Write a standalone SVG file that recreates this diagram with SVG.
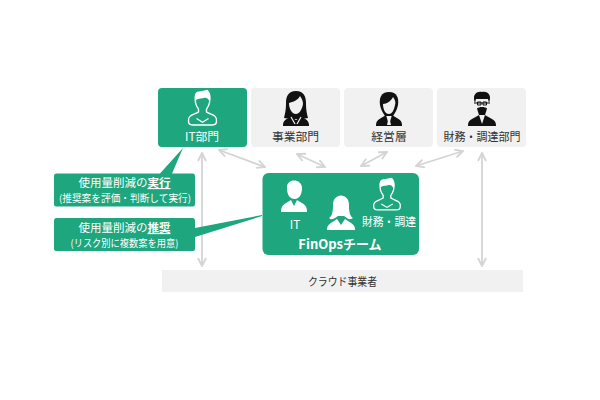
<svg xmlns="http://www.w3.org/2000/svg" width="600" height="400" viewBox="0 0 600 400">
<defs>
<marker id="a" viewBox="0 0 10 10" refX="9" refY="5" markerWidth="10" markerHeight="10" markerUnits="userSpaceOnUse" orient="auto-start-reverse"><path d="M1 1L9 5L1 9" fill="none" stroke="#d4d4d4" stroke-width="1.800"/></marker>
<g id="mo"><path d="M-7-23C-8-30 8-30 7-23C8-18 6-13 4-10V-7C8-4 15-4 14 3C14 6 12 7 10 7H-10C-12 7-14 6-14 3C-15-4-8-4-4-7V-10C-6-13-8-18-7-23Z" fill="none" stroke="#fff" stroke-width="1.400"/><path d="M-7-19C-9-25-7-30-3-29L5-31C8-28 9-23 7-18C6-21 4-23 1-22C-2-21-5-22-7-19Z" fill="#fff"/><path d="M-6 0L0 4L6 0" fill="none" stroke="#fff" stroke-width="1.200"/></g>
</defs>
<style>
text{font-family:"Noto Sans CJK JP","Liberation Sans",sans-serif;text-anchor:middle}
.g{fill:#1ea67e}.l{fill:#f1f1f1}.w{fill:#fff}.k{fill:#333}
.c{fill:none;stroke:#d4d4d4;stroke-width:1.800;marker-start:url(#a);marker-end:url(#a)}
.d{fill:#111}.f{fill:#f1f1f1}
</style>
<rect width="600" height="400" fill="#fff"/>
<g id="connectors">
<path class="c" d="M202 153V266"/>
<path class="c" d="M219 150L265 167"/>
<path class="c" d="M297 154L325 167"/>
<path class="c" d="M387 152L361 166"/>
<path class="c" d="M463 151L416 166"/>
<path class="c" d="M482 153V266"/>
</g>
<g id="it-dept"><rect class="g" x="158" y="88" width="89" height="59" rx="4"/>
<use href="#mo" transform="translate(202.500 118.500) scale(1 .93)"/>
<text class="w" x="202" y="141" font-size="11.800">IT部門</text></g>
<g id="business"><rect class="l" x="251" y="88" width="89" height="59" rx="4"/>
<path class="d" d="M296 91C288 91 286 97 286 103C286 110 285 114 284 118L290 119H302L308 118C307 114 306 110 306 103C306 97 304 91 296 91Z"/>
<path class="f" d="M289 103C293 102 298 100 300 96C302 99 303 101 303 104C302 110 299 114 296 114C292 114 289 109 289 103Z"/>
<path class="d" d="M283 125C283 120 288 118 291 117L296 120L301 117C304 118 309 120 309 125V126H283Z"/>
<path d="M291 117L295 124M301 117L297 124" fill="none" stroke="#f1f1f1" stroke-width="1.200"/>
<text class="k" x="295.500" y="141" font-size="11.800">事業部門</text></g>
<g id="executives"><rect class="l" x="344" y="88" width="89" height="59" rx="4"/>
<path class="d" d="M389 92C381 92 379 98 380 105C381 110 383 113 385 116H393C395 113 397 110 398 105C399 98 397 92 389 92Z"/>
<path class="f" d="M383 104C387 104 391 101 393 97C395 100 396 102 395 105C394 110 392 114 389 114C385 114 383 109 383 104Z"/>
<path class="d" d="M376 125C376 119 382 118 386 115L389 125L392 115C396 118 402 119 402 125V126H376Z"/>
<path d="M389 116L387 125H391Z" class="f"/>
<text class="k" x="389" y="141" font-size="11.800">経営層</text></g>
<g id="finance"><rect class="l" x="437" y="88" width="89" height="59" rx="4"/>
<path class="d" d="M475 103C472 95 476 91 482 92C488 91 492 95 489 103L488 99H476Z"/>
<path class="f" d="M476 101H488C488 109 486 115 482 115C478 115 476 109 476 101Z"/>
<path d="M474 103H490" stroke="#111" stroke-width="1"/>
<path d="M477.500 102h3.500v3h-3.500zM483 102h3.500v3h-3.500z" fill="none" stroke="#111" stroke-width="1"/>
<path class="d" d="M477 108.500C479 106.500 485 106.500 487 108.500L485 115H479Z"/>
<path class="d" d="M468 125C468 119 475 118 479 115L482 124L485 115C489 118 496 119 496 125V126H468Z"/>
<text class="k" x="482" y="141" font-size="11.800" textLength="77" lengthAdjust="spacingAndGlyphs">財務・調達部門</text></g>
<g id="finops"><rect class="g" x="262.500" y="173" width="156.500" height="82" rx="6"/>
<g class="w"><path d="M287 188C286 178 302 178 302 188C302 195 299 199 294.500 199C290 199 287 195 287 188Z"/><path d="M281 211C281 204 287 203 291 200L294 206L297 200C301 203 307 204 307 211V212H281Z"/>
<path d="M333 206C332 192 350 192 349 206C349 214 351 217 353 218C350 220 348 219 347 218L344 216H338L335 218C333 219 331 220 329 218C331 217 333 214 333 206Z"/><path d="M327 229C327 224 333 222 337 219L341 225L345 219C349 222 355 224 355 229V230H327Z"/></g>
<use href="#mo" transform="translate(387 204) scale(.95 .85)"/>
<text class="w" x="295" y="229" font-size="11.800">IT</text>
<text class="w" x="389" y="226" font-size="11.800" textLength="54" lengthAdjust="spacingAndGlyphs">財務・調達</text>
<text class="w" x="340" y="249" font-size="13" font-weight="700">FinOpsチーム</text></g>
<g id="execute"><path class="g" d="M54 176Q54 173.500 56 173.500H160L183 148L172 173.500H193Q195 173.500 195 176V204Q195 206.500 193 206.500H56Q54 206.500 54 204Z"/>
<text class="w" x="124.500" y="187" font-size="11.500">使用量削減の<tspan font-weight="700" text-decoration="underline">実行</tspan></text>
<text class="w" x="125" y="201.500" font-size="10" textLength="132" lengthAdjust="spacingAndGlyphs">(推奨案を評価・判断して実行)</text></g>
<g id="recommend"><path class="g" d="M54 220.500Q54 218 56 218H193Q195 218 195 220.500V228L262 215V216L195 237V249Q195 251 193 251H56Q54 251 54 249Z"/>
<text class="w" x="124.500" y="232" font-size="11.500">使用量削減の<tspan font-weight="700" text-decoration="underline">推奨</tspan></text>
<text class="w" x="124.500" y="247" font-size="10" textLength="108" lengthAdjust="spacingAndGlyphs">(リスク別に複数案を用意)</text></g>
<g id="cloud"><rect class="l" x="162" y="270" width="361" height="22"/>
<text class="k" x="342.500" y="286" font-size="11" textLength="69" lengthAdjust="spacingAndGlyphs">クラウド事業者</text></g>
</svg>
